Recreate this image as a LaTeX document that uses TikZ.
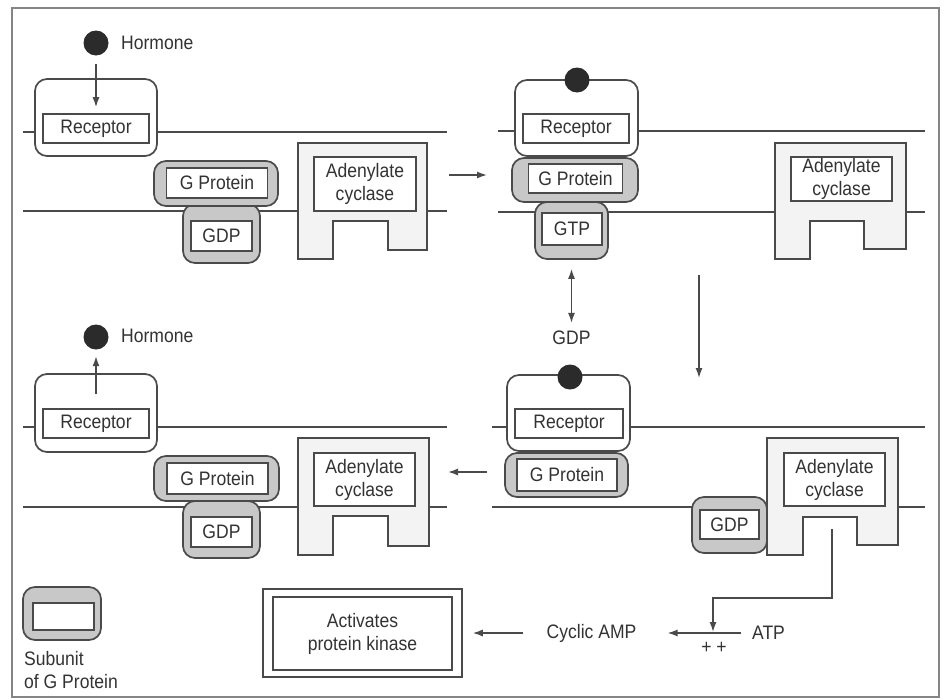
\documentclass[tikz,border=0pt]{standalone}
\usepackage{fontspec}
\setmainfont{Liberation Sans}[FakeStretch=0.9]
\usetikzlibrary{arrows.meta}

\definecolor{ink}{HTML}{333333}
\definecolor{linec}{HTML}{4A4A4A}
\definecolor{gfill}{HTML}{C8C8C8}
\definecolor{afill}{HTML}{F3F3F3}
\definecolor{framec}{HTML}{858585}
\definecolor{dotc}{HTML}{2B2B2B}

\tikzset{
  wh/.style 2 args={minimum width=#1pt, minimum height=#2pt},
  membrane/.style={draw=linec, line width=1.4pt},
  outerbox/.style={draw=linec, line width=1.7pt, rounded corners=12pt, inner sep=0pt},
  recbox/.style={outerbox, fill=white},
  subbox/.style={outerbox, fill=gfill},
  inbox/.style={draw=linec, line width=1.6pt, fill=white, inner sep=0pt, align=center, text=ink},
  hormonedot/.style={circle, fill=dotc, inner sep=0pt, minimum size=25pt},
  cyclase/.style={draw=linec, line width=1.6pt, fill=afill},
  arr/.style={draw=linec, line width=1.4pt, ->},
  darr/.style={draw=linec, line width=1.4pt, <->},
  word/.style={inner sep=0pt, text=ink, align=left},
  >={Latex[length=10pt,width=7pt]}
}

\begin{document}
\begin{tikzpicture}[x=1pt, y=-1pt, font=\fontsize{19.5}{23}\selectfont]
\useasboundingbox (0,0) rectangle (944,699);
\fill[white] (0,0) rectangle (944,699);
\draw[framec, line width=2pt] (12,8) rectangle (939,697);

% ---------- panel 1: resting state ----------
\draw[membrane] (23,132) -- (447,132);
\draw[membrane] (23,211) -- (447,211);
\node[recbox, wh={122}{77}] (rec1o) at (96,117.5) {};
\node[inbox, wh={106}{29}] (rec1i) at (96,128.5) {Receptor};
\node[hormonedot] (dot1) at (96,43) {};
\node[word, anchor=west] (hor1) at (121,43) {Hormone};
\draw[arr, shorten <=8pt, shorten >=6pt] (dot1) -- (rec1i);
\node[subbox, wh={77}{59}] (gdp1o) at (221.5,233.5) {};
\node[inbox, wh={61}{30}] (gdp1i) at (221.5,236) {GDP};
\node[subbox, wh={124}{45}] (gp1o) at (216,183.5) {};
\node[inbox, wh={101}{30}] (gp1i) at (217,183) {G Protein};
\draw[cyclase] (298,143) -- (427,143) -- (427,250) -- (388,250) -- (388,221)
  -- (333,221) -- (333,259) -- (298,259) -- cycle;
\node[inbox, wh={102}{54}] (ac1) at (365,184) {Adenylate\\cyclase};

% ---------- panel 2: hormone bound, GTP exchange ----------
\draw[membrane] (498,131) -- (925,131);
\draw[membrane] (498,212) -- (925,212);
\node[recbox, wh={123}{76}] (rec2o) at (576.5,118) {};
\node[inbox, wh={106}{29}] (rec2i) at (576,128.5) {Receptor};
\node[hormonedot] (dot2) at (577,80) {};
\node[subbox, wh={73}{57}] (gtp2o) at (571.5,230.5) {};
\node[inbox, wh={60}{32}] (gtp2i) at (572,229) {GTP};
\node[subbox, wh={126}{44}] (gp2o) at (575,180) {};
\node[inbox, wh={94}{29}] (gp2i) at (575.5,178.5) {G Protein};
\draw[cyclase] (775,143) -- (906,143) -- (906,249) -- (864,249) -- (864,221)
  -- (810,221) -- (810,259) -- (775,259) -- cycle;
\node[inbox, wh={101}{44}] (ac2) at (841.5,179) {Adenylate\\cyclase};

% exchanged nucleotide
\node[word] (gdpfree) at (571.5,338) {GDP};
\draw[darr, shorten <=9pt, shorten >=8pt] (gtp2o.south) -- (gdpfree.north);

% ---------- panel 3: hormone released ----------
\draw[membrane] (23,427) -- (447,427);
\draw[membrane] (23,507) -- (447,507);
\node[recbox, wh={122}{78}] (rec3o) at (96,413) {};
\node[inbox, wh={106}{29}] (rec3i) at (96,423.5) {Receptor};
\node[hormonedot] (dot3) at (96,337) {};
\node[word, anchor=west] (hor3) at (121,336) {Hormone};
\draw[arr, shorten <=14pt, shorten >=6.5pt] (rec3i) -- (dot3);
\node[subbox, wh={77}{57}] (gdp3o) at (221.5,529.5) {};
\node[inbox, wh={61}{30}] (gdp3i) at (221.5,532) {GDP};
\node[subbox, wh={125}{45}] (gp3o) at (216.5,478.5) {};
\node[inbox, wh={101}{31}] (gp3i) at (217.5,478.5) {G Protein};
\draw[cyclase] (298,438) -- (429,438) -- (429,546) -- (388,546) -- (388,516)
  -- (333,516) -- (333,555) -- (298,555) -- cycle;
\node[inbox, wh={101}{53}] (ac3) at (364.5,479.5) {Adenylate\\cyclase};

% ---------- panel 4: subunit activates the cyclase ----------
\draw[membrane] (492,427) -- (925,427);
\draw[membrane] (492,507) -- (925,507);
\node[recbox, wh={123}{76}] (rec4o) at (568.5,413) {};
\node[inbox, wh={108}{29}] (rec4i) at (569,423.5) {Receptor};
\node[hormonedot] (dot4) at (570,377) {};
\node[subbox, wh={123}{44}] (gp4o) at (566.5,475) {};
\node[inbox, wh={100}{32}] (gp4i) at (567,475) {G Protein};
\draw[cyclase] (767,438) -- (898,438) -- (898,545) -- (857,545) -- (857,517)
  -- (803,517) -- (803,555) -- (767,555) -- cycle;
\node[inbox, wh={101}{53}] (ac4) at (834.5,479.5) {Adenylate\\cyclase};
\node[subbox, wh={75}{56}] (gdp4o) at (729.5,525) {};
\node[inbox, wh={59}{29}] (gdp4i) at (729.5,524.5) {GDP};

% ---------- sequence arrows between panels ----------
\coordinate (s1a) at (449,175);
\coordinate (s1b) at (487,175);
\draw[arr] (s1a) -- (s1b);
\coordinate (s2a) at (699,275);
\coordinate (s2b) at (699,378);
\draw[arr] (s2a) -- (s2b);
\coordinate (s3a) at (487,472);
\coordinate (s3b) at (448,472);
\draw[arr] (s3a) -- (s3b);

% ---------- cAMP production ----------
\node[word] (atp) at (768.5,633) {ATP};
\node[word] (camp) at (591.5,633) {Cyclic AMP};
\node[word] (plus) at (714,648) {+ +};
\node[draw=linec, line width=1.5pt, inner sep=0pt, wh={199}{88}] (acto) at (362.5,633) {};
\node[inbox, line width=1.5pt, wh={179}{73}] (acti) at (362.5,633.5) {Activates\\protein kinase};

\coordinate (acout) at (832,529);
\coordinate (atpjoin) at (713,632);
\draw[arr] (acout) -- ++(0,69) -| (atpjoin);
\draw[arr, shorten >=31pt] ([xshift=-11pt]atp.west) -- (camp.east);
\draw[arr, shorten <=23pt, shorten >=10pt] (camp.west) -- (acto.east);

% ---------- legend ----------
\node[subbox, wh={78}{53}] (lego) at (62,613.5) {};
\node[inbox, wh={61}{27}] (legi) at (63.5,616.5) {};
\node[word, anchor=west] (legtxt) at (24,670) {Subunit\\of G Protein};
\end{tikzpicture}
\end{document}
